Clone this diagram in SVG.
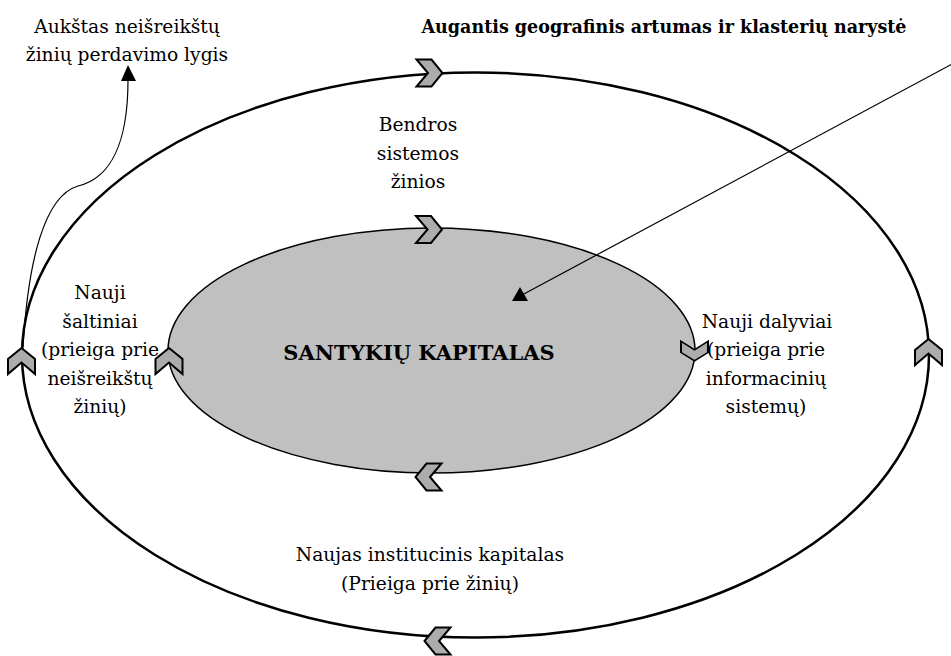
<svg xmlns="http://www.w3.org/2000/svg" xmlns:xlink="http://www.w3.org/1999/xlink" width="951" height="656" viewBox="0 0 951 656">
  <style>
    text { font-family: 'DejaVu Serif', 'Liberation Serif', serif; font-size: 18.7px; fill: #000; text-anchor: middle; }
    .b { font-weight: bold; }
    .ring { fill: none; stroke: #000; stroke-width: 2.5; }
    .core { fill: #c0c0c0; stroke: #000; stroke-width: 1.5; }
    .chev { fill: #acacac; stroke: #000; stroke-width: 2; stroke-linejoin: miter; }
    .link { fill: none; stroke: #000; stroke-width: 1.2; }
    .head { fill: #000; }
  </style>
  <defs>
    <!-- flow chevron, pointing right, centred on the origin -->
    <path id="chev" class="chev" d="M-13,-13.5 L2,-13.5 L13,0 L2,13.5 L-13,13.5 L-1.5,0 Z"/>
  </defs>

  <rect width="951" height="656" fill="#fff"/>

  <!-- outer ring -->
  <g id="outer-ring">
    <ellipse class="ring" cx="475.5" cy="355" rx="453.5" ry="282.5"/>
  </g>

  <!-- inner core -->
  <g id="santykiu-kapitalas">
    <ellipse class="core" cx="431.5" cy="350.5" rx="263.5" ry="122.5"/>
    <text class="b" x="419" y="360" style="font-size:21px">SANTYKIŲ KAPITALAS</text>
  </g>

  <!-- connectors -->
  <g id="connectors">
    <path class="link" d="M23,347 C28,262 44,196 78,186 C112,178 128,140 128,80"/>
    <polygon class="head" points="128,65 121,81 136,81"/>
    <line class="link" x1="956" y1="62" x2="522" y2="295"/>
    <polygon class="head" points="520,287 512,301 528,301"/>
  </g>

  <!-- direction chevrons on the rings -->
  <g id="chevrons">
    <use xlink:href="#chev" transform="translate(429.5,73)"/>
    <use xlink:href="#chev" transform="translate(429,229.5)"/>
    <use xlink:href="#chev" transform="translate(428.5,477) rotate(180)"/>
    <use xlink:href="#chev" transform="translate(437.5,641) rotate(180)"/>
    <use xlink:href="#chev" transform="translate(21.5,361) rotate(-90)"/>
    <use xlink:href="#chev" transform="translate(169,361) rotate(-90)"/>
    <use xlink:href="#chev" transform="translate(694.5,351) rotate(90) scale(0.75,1)"/>
    <use xlink:href="#chev" transform="translate(928.5,352) rotate(-90)"/>
  </g>

  <!-- labels -->
  <g id="label-tacit-transfer">
    <text x="127" y="33">Aukštas neišreikštų</text>
    <text x="127" y="61">žinių perdavimo lygis</text>
  </g>
  <g id="label-proximity">
    <text class="b" x="664" y="33" style="font-size:18px" textLength="485" lengthAdjust="spacingAndGlyphs">Augantis geografinis artumas ir klasterių narystė</text>
  </g>
  <g id="label-system-knowledge">
    <text x="418" y="131">Bendros</text>
    <text x="418" y="160">sistemos</text>
    <text x="418" y="188">žinios</text>
  </g>
  <g id="label-new-sources">
    <text x="100" y="299">Nauji</text>
    <text x="100" y="328">šaltiniai</text>
    <text x="100" y="356">(prieiga prie</text>
    <text x="100" y="385">neišreikštų</text>
    <text x="100" y="413">žinių)</text>
  </g>
  <g id="label-new-participants">
    <text x="767" y="328">Nauji dalyviai</text>
    <text x="766" y="356">(prieiga prie</text>
    <text x="766" y="385">informacinių</text>
    <text x="766" y="413">sistemų)</text>
  </g>
  <g id="label-institutional">
    <text x="430" y="561">Naujas institucinis kapitalas</text>
    <text x="430" y="590">(Prieiga prie žinių)</text>
  </g>
</svg>
